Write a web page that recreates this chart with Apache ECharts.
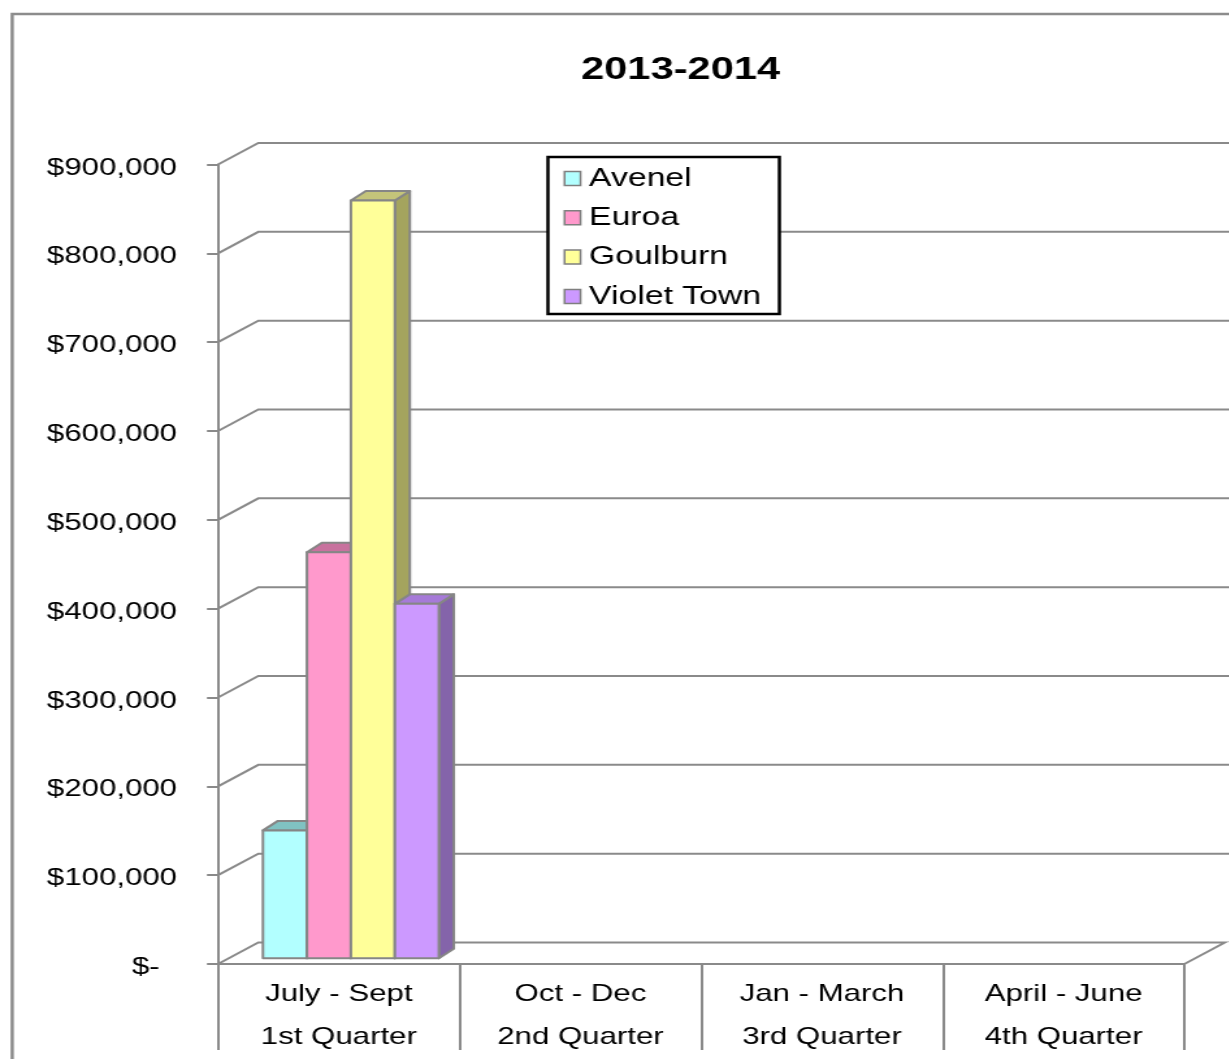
<!DOCTYPE html>
<html>
<head>
<meta charset="utf-8">
<title>2013-2014</title>
<script src="https://cdn.jsdelivr.net/npm/echarts@6/dist/echarts.min.js"></script>
<style>
  html, body { margin: 0; padding: 0; background: #ffffff; overflow: hidden; }
  /* the drawing is laid out narrow and stretched sideways, like the wide worksheet view */
  #chart { width: 945.3846px; height: 1059px; transform: scaleX(1.3); transform-origin: 0 0; }
</style>
</head>
<body>
<div id="chart"></div>
<script>
// ---- data ----
const periods  = ['July - Sept', 'Oct - Dec', 'Jan - March', 'April - June'];
const quarters = ['1st Quarter', '2nd Quarter', '3rd Quarter', '4th Quarter'];
const towns    = ['Avenel', 'Euroa', 'Goulburn', 'Violet Town'];

const avenel     = [144000, null, null, null];
const euroa      = [457000, null, null, null];
const goulburn   = [853000, null, null, null];
const violetTown = [399000, null, null, null];

const valueTicks = [0, 100000, 200000, 300000, 400000, 500000, 600000, 700000, 800000, 900000];

// ---- styling ----
const FONT = '"Liberation Sans", Arial, sans-serif';
const LINE = '#8a8a8a';
const EDGE = '#868686';
const faceColors = [
  { front: '#B2FFFF', top: '#80C2C2', side: '#6FA6A6' },
  { front: '#FF99CC', top: '#C8729E', side: '#A85E86' },
  { front: '#FFFF99', top: '#C4C47A', side: '#A4A45E' },
  { front: '#CC99FF', top: '#A67AD8', side: '#8464AA' }
];

// wall / floor depth (px) and column depth (px)
const WALL_DX = 31, WALL_DY = 21.5;
const COL_DX = 11.5, COL_DY = 9.5, COL_LIFT = 5.7;
const COL_OFFSET = 0.186, COL_WIDTH = 0.182;   // fractions of one category band

const seriesValues = [avenel, euroa, goulburn, violetTown];

function renderWall(params, api) {
  const cs = params.coordSys;
  const v = api.value(1);
  const y = api.coord([0, v])[1];
  const x0 = cs.x, x1 = cs.x + cs.width;
  const pts = v === 0
    ? [[x0, y], [x0 + WALL_DX, y - WALL_DY], [x1 + WALL_DX, y - WALL_DY], [x1, y]]
    : [[x0, y], [x0 + WALL_DX, y - WALL_DY], [x1 + WALL_DX + 40, y - WALL_DY]];
  return {
    type: 'polyline',
    shape: { points: pts },
    style: { stroke: LINE, lineWidth: 2, fill: null }
  };
}

function columnRenderer(k) {
  const c = faceColors[k];
  return function (params, api) {
    const ci = api.value(0);
    const v = api.value(1);
    if (v == null || isNaN(v)) return null;
    const band = api.size([1, 0])[0];
    const base = api.coord([ci, 0]);
    const left = base[0] - band / 2 + band * (COL_OFFSET + k * COL_WIDTH);
    const right = left + band * COL_WIDTH;
    const yb = base[1] - COL_LIFT;
    const yt = api.coord([ci, v])[1] - COL_LIFT;
    const edge = { stroke: EDGE, lineWidth: 2, lineJoin: 'round' };
    return {
      type: 'group',
      children: [
        { type: 'polygon',
          shape: { points: [[right, yt], [right + COL_DX, yt - COL_DY], [right + COL_DX, yb - COL_DY], [right, yb]] },
          style: Object.assign({ fill: c.side }, edge) },
        { type: 'polygon',
          shape: { points: [[left, yt], [left + COL_DX, yt - COL_DY], [right + COL_DX, yt - COL_DY], [right, yt]] },
          style: Object.assign({ fill: c.top }, edge) },
        { type: 'rect',
          shape: { x: left, y: yt, width: right - left, height: yb - yt },
          style: Object.assign({ fill: c.front }, edge) }
      ]
    };
  };
}

const series = [{
  name: 'wall',
  type: 'custom',
  clip: false,
  silent: true,
  renderItem: renderWall,
  encode: { x: 0, y: 1 },
  data: valueTicks.map(v => [0, v]),
  z: 1
}];

towns.forEach((town, k) => {
  series.push({
    name: town,
    type: 'custom',
    clip: false,
    renderItem: columnRenderer(k),
    encode: { x: 0, y: 1 },
    itemStyle: { color: faceColors[k].front, borderColor: '#7f7f7f', borderWidth: 1.5 },
    data: seriesValues[k]
      .map((v, i) => [i, v])
      .filter(d => d[1] != null),
    z: 2
  });
});

const chart = echarts.init(document.getElementById('chart'), null, { renderer: 'canvas' });

chart.setOption({
  animation: false,
  backgroundColor: '#ffffff',
  title: {
    text: '2013-2014',
    left: 447,
    top: 54.5,
    padding: 0,
    textStyle: { fontFamily: FONT, fontWeight: 'bold', fontSize: 32, color: '#000000' }
  },
  legend: {
    orient: 'vertical',
    left: 421.5,
    top: 157,
    data: towns,
    icon: 'rect',
    itemWidth: 12.3,
    itemHeight: 14,
    itemGap: 13.3,
    padding: [8.5, 14, 4.5, 12],
    borderColor: '#000000',
    borderWidth: 2.5,
    backgroundColor: '#ffffff',
    selectedMode: false,
    itemStyle: { borderColor: '#7f7f7f', borderWidth: 1.5 },
    textStyle: { fontFamily: FONT, fontSize: 26, color: '#000000', padding: [0, 0, 0, 1.5] }
  },
  grid: {
    left: 167.7,
    right: 33.9,
    top: 164.5,
    bottom: 95,
    containLabel: false
  },
  xAxis: {
    type: 'category',
    data: periods.map((p, i) => p + '\n' + quarters[i]),
    boundaryGap: true,
    axisLine: { show: true, lineStyle: { color: LINE, width: 2 } },
    axisTick: { show: true, length: 86, lineStyle: { color: LINE, width: 2 } },
    axisLabel: {
      interval: 0,
      margin: 9,
      fontFamily: FONT,
      fontSize: 24,
      lineHeight: 43,
      color: '#000000'
    },
    splitLine: { show: false }
  },
  yAxis: {
    type: 'value',
    min: 0,
    max: 900000,
    interval: 100000,
    axisLine: { show: true, lineStyle: { color: LINE, width: 2 } },
    axisTick: { show: true, length: 8.5, lineStyle: { color: LINE, width: 2 } },
    axisLabel: {
      margin: 31.5,
      color: '#000000',
      formatter: v => '{m|' + (v === 0 ? '$-  ' : '$' + v.toLocaleString('en-US')) + '}',
      rich: {
        m: { fontFamily: FONT, fontSize: 24, color: '#000000', padding: [7, 0, 0, 0] }
      }
    },
    splitLine: { show: false }
  },
  graphic: [{
    type: 'rect',
    silent: true,
    z: 0,
    shape: { x: 9.4, y: 14, width: 3000, height: 3000 },
    style: { fill: null, stroke: '#8c8c8c', lineWidth: 2.5 }
  }],
  series: series
});
</script>
</body>
</html>
